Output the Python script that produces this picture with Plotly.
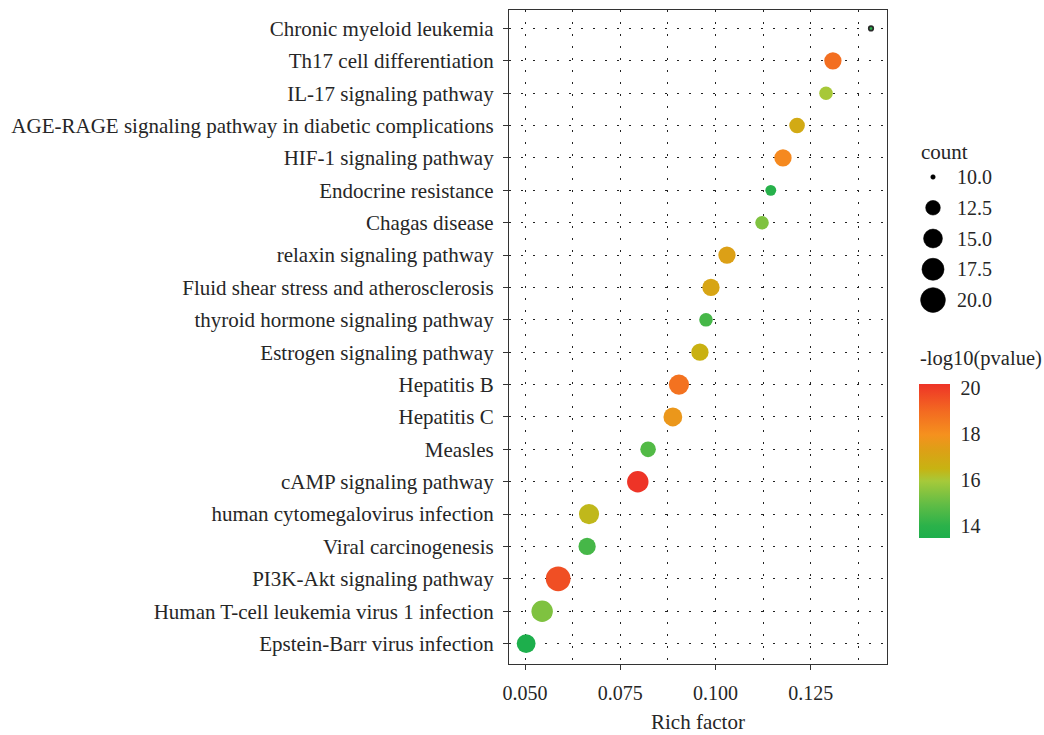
import numpy as np
import plotly.graph_objects as go

# ---------------- data ----------------
pathways = [
    "Chronic myeloid leukemia",
    "Th17 cell differentiation",
    "IL-17 signaling pathway",
    "AGE-RAGE signaling pathway in diabetic complications",
    "HIF-1 signaling pathway",
    "Endocrine resistance",
    "Chagas disease",
    "relaxin signaling pathway",
    "Fluid shear stress and atherosclerosis",
    "thyroid hormone signaling pathway",
    "Estrogen signaling pathway",
    "Hepatitis B",
    "Hepatitis C",
    "Measles",
    "cAMP signaling pathway",
    "human cytomegalovirus infection",
    "Viral carcinogenesis",
    "PI3K-Akt signaling pathway",
    "Human T-cell leukemia virus 1 infection",
    "Epstein-Barr virus infection",
]
rich_factor = [0.1408, 0.1308, 0.1290, 0.1214, 0.1177, 0.1145, 0.1122, 0.1030,
               0.0988, 0.0975, 0.0959, 0.0904, 0.0888, 0.0823, 0.0796, 0.0668,
               0.0663, 0.0587, 0.0545, 0.0503]
count = [10, 14, 12, 13, 14, 11, 12, 14, 14, 12, 14, 16, 15, 13, 17, 16, 14, 20, 17, 15]
neg_log10_p = [13.9, 18.9, 16.0, 16.9, 18.2, 13.9, 15.4, 17.3, 17.1, 14.5, 16.6,
               18.8, 17.7, 14.7, 20.2, 16.4, 14.5, 19.6, 15.4, 13.5]

x_ticks = [0.050, 0.075, 0.100, 0.125]
size_legend_values = [10.0, 12.5, 15.0, 17.5, 20.0]
color_ticks = [14, 16, 18, 20]

# ---------------- style ----------------
FONT = "Liberation Serif"
TXT = "#262626"
W, H = 1044, 735
PL, PR, PT, PB = 509, 887, 10, 664  # panel box in pixels

def dot_size(c):
    return 4.5 + 6.4 * np.sqrt(max(c - 10.0, 0.0))

colorscale = [
    [0.00, "#1DAF4C"],
    [0.08, "#2BB24A"],
    [0.22, "#62BD45"],
    [0.37, "#A6C93A"],
    [0.45, "#C7B312"],
    [0.57, "#DDA016"],
    [0.67, "#F5911E"],
    [0.82, "#F36B21"],
    [1.00, "#EE3427"],
]

line_w = [1.7 if c <= 10 else 0 for c in count]
line_c = ["#2a2a2a" if c <= 10 else "rgba(0,0,0,0)" for c in count]

fig = go.Figure()

fig.add_trace(go.Scatter(
    x=rich_factor, y=pathways, mode="markers", showlegend=False,
    marker=dict(
        size=[dot_size(c) for c in count],
        color=neg_log10_p, colorscale=colorscale,
        cmin=min(neg_log10_p), cmax=max(neg_log10_p),
        opacity=1,
        line=dict(width=line_w, color=line_c),
        colorbar=dict(
            x=919 / W, xanchor="left", xpad=0,
            y=(H - 460.5) / H, yanchor="middle", ypad=0,
            len=154, lenmode="pixels", thickness=31, thicknessmode="pixels",
            outlinewidth=0, tickvals=color_ticks,
            ticks="outside", ticklen=7, tickcolor="rgba(255,255,255,0)", tickwidth=1,
            tickfont=dict(family=FONT, size=20, color=TXT),
        ),
    ),
))

# size legend drawn on its own small axes
legend_labels = [f"{v:.1f}" for v in size_legend_values]
fig.add_trace(go.Scatter(
    x=[0.5] * len(size_legend_values), y=legend_labels, mode="markers",
    xaxis="x2", yaxis="y2", showlegend=False, hoverinfo="skip",
    marker=dict(size=[dot_size(v) for v in size_legend_values], color="black",
                opacity=1, line=dict(width=0.6, color="black")),
))

dotgrid = dict(showgrid=True, gridcolor="#222222", gridwidth=1.3, griddash="2px,10px")

fig.update_layout(
    width=W, height=H, autosize=False,
    margin=dict(l=0, r=0, t=0, b=0),
    paper_bgcolor="white", plot_bgcolor="white",
    font=dict(family=FONT, color=TXT),
    xaxis=dict(
        domain=[PL / W, PR / W], range=[0.0458, 0.1450],
        tickvals=x_ticks, ticktext=[f"{t:.3f}" for t in x_ticks],
        ticks="outside", ticklen=5, tickcolor="#333", tickwidth=1.2,
        showline=True, mirror=True, linecolor="#333", linewidth=1.3,
        zeroline=False, automargin=False,
        tickfont=dict(family=FONT, size=20, color=TXT),
        ticklabelstandoff=6,
        minor=dict(tickvals=[t + 0.0125 for t in x_ticks], ticks="", **dotgrid),
        **dotgrid,
    ),
    yaxis=dict(
        domain=[(H - PB) / H, (H - PT) / H],
        type="category", categoryarray=pathways[::-1], range=[-0.63, len(pathways) - 0.43],
        ticks="outside", ticklen=5, tickcolor="#333", tickwidth=1.2,
        showline=True, mirror=True, linecolor="#333", linewidth=1.3,
        zeroline=False, automargin=False,
        tickfont=dict(family=FONT, size=21, color=TXT),
        ticklabelstandoff=5,
        **dotgrid,
    ),
    xaxis2=dict(domain=[916 / W, 950 / W], range=[0, 1], visible=False, anchor="y2"),
    yaxis2=dict(
        domain=[(H - 315.4) / H, (H - 161.6) / H], anchor="x2",
        type="category", categoryarray=legend_labels, range=[len(legend_labels) - 0.5, -0.5],
        side="right", showgrid=False, showline=False, zeroline=False, ticks="",
        tickfont=dict(family=FONT, size=20, color=TXT), ticklabelstandoff=6,
        automargin=False,
    ),
    annotations=[
        dict(text="Rich factor", x=(PL + PR) / 2 / W, y=(H - 722) / H, xref="paper", yref="paper",
             xanchor="center", yanchor="middle", showarrow=False,
             font=dict(family=FONT, size=21, color=TXT)),
        dict(text="count", x=919 / W, y=(H - 152) / H, xref="paper", yref="paper",
             xanchor="left", yanchor="middle", showarrow=False,
             font=dict(family=FONT, size=21, color=TXT)),
        dict(text="-log10(pvalue)", x=918 / W, y=(H - 358) / H, xref="paper", yref="paper",
             xanchor="left", yanchor="middle", showarrow=False,
             font=dict(family=FONT, size=20.5, color=TXT)),
    ],
)

fig.write_html(
    "out.html",
    config={"displayModeBar": False},
    post_script="document.body.style.margin='0';document.body.style.overflow='hidden';",
)
